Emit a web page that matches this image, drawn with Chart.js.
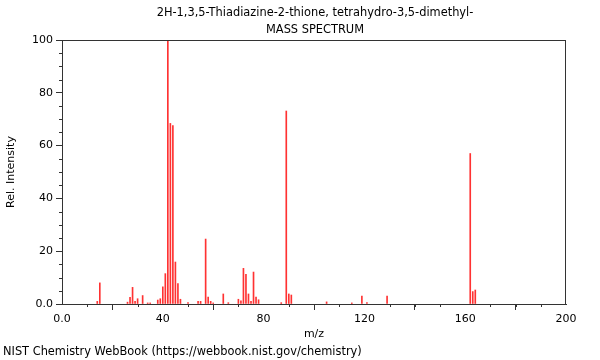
<!DOCTYPE html>
<html lang="en">
<head>
  <meta charset="UTF-8">
  <title>2H-1,3,5-Thiadiazine-2-thione, tetrahydro-3,5-dimethyl- mass spectrum</title>
  <script src="https://cdn.jsdelivr.net/npm/chart.js"></script>
  <style>
    body {
      margin: 0;
      background-color: #fff;
    }
    #wrap {
      width: 600px;
      height: 360px;
    }
  </style>
</head>
<body>
  <div id="wrap">
    <canvas id="spectrum" width="600" height="360"></canvas>
  </div>

  <script>
    // Textos
    const titleLines = ['2H-1,3,5-Thiadiazine-2-thione, tetrahydro-3,5-dimethyl-', 'MASS SPECTRUM'];
    const xAxisLabel = 'm/z';
    const yAxisLabel = 'Rel. Intensity';
    const footerText = 'NIST Chemistry WebBook (https://webbook.nist.gov/chemistry)';

    // Picos (m/z) e intensidad relativa
    const mz = [14, 15, 26, 27, 28, 29, 30, 32, 34, 35, 38, 39, 40, 41, 42, 43, 44, 45, 46, 47, 50,
                54, 55, 57, 58, 59, 60, 64, 66, 70, 71, 72, 73, 74, 75, 76, 77, 78, 87, 89, 90, 91,
                105, 115, 119, 121, 129, 162, 163, 164];
    const intensity = [1, 8, 0.7, 2.5, 6.3, 1, 2, 3.2, 0.4, 0.4, 1.5, 2, 6.5, 11.5, 100, 68.4, 67.6, 15.9, 7.7, 1.8, 0.5,
                       1, 1, 24.6, 2.6, 1, 0.4, 3.8, 0.5, 1.8, 1.2, 13.5, 11.2, 3.8, 1, 12.1, 2.6, 1.6, 0.5, 73.1, 3.8, 3.4,
                       0.8, 0.4, 3, 0.5, 3, 57, 4.7, 5.3];

    // Ejes
    const xRange = [0, 200];
    const yRange = [0, 100];
    const xMajorStep = 40, xMinorStep = 10;
    const yMajorStep = 20, yMinorStep = 5;

    const axisColor = '#333';
    const textFont = "11px 'DejaVu Sans', sans-serif";
    const headFont = "11.4px 'DejaVu Sans', sans-serif";
    const fmt = v => (v === 0 ? '0.0' : String(v));

    Chart.defaults.font.family = "'DejaVu Sans', sans-serif";
    Chart.defaults.font.size = 11;
    Chart.defaults.color = '#000';

    // Marco, ticks menores y textos
    const decorations = {
      id: 'decorations',
      afterDraw(chart) {
        const { ctx, chartArea: a, scales } = chart;
        ctx.save();
        ctx.strokeStyle = axisColor;
        ctx.lineWidth = 1;
        ctx.strokeRect(a.left + 0.5, a.top + 0.5, a.right - a.left - 1, a.bottom - a.top);

        ctx.beginPath();
        for (let v = xRange[0]; v <= xRange[1]; v += xMinorStep) {
          if (v % xMajorStep === 0) continue;
          const px = Math.round(scales.x.getPixelForValue(v)) + 0.5;
          ctx.moveTo(px, a.bottom);
          ctx.lineTo(px, a.bottom + 3);
        }
        for (let v = yRange[0]; v <= yRange[1]; v += yMinorStep) {
          if (v % yMajorStep === 0) continue;
          const py = Math.round(scales.y.getPixelForValue(v)) + 0.5;
          ctx.moveTo(a.left - 3, py);
          ctx.lineTo(a.left, py);
        }
        ctx.stroke();

        ctx.fillStyle = '#000';
        ctx.textAlign = 'center';
        ctx.textBaseline = 'middle';
        const cx = (a.left + a.right) / 2;
        ctx.font = headFont;
        ctx.fillText(titleLines[0], cx + 1, 13);
        ctx.fillText(titleLines[1], cx + 1, 30);

        ctx.font = textFont;
        ctx.fillText(xAxisLabel, cx, 334);

        ctx.font = headFont;
        ctx.textAlign = 'left';
        ctx.fillText(footerText, 3, 352);

        ctx.font = textFont;
        ctx.translate(11, (a.top + a.bottom) / 2);
        ctx.rotate(-Math.PI / 2);
        ctx.textAlign = 'center';
        ctx.fillText(yAxisLabel, 0, 0);
        ctx.restore();
      }
    };

    new Chart(document.getElementById('spectrum'), {
      type: 'bar',
      data: {
        datasets: [{
          data: mz.map((m, i) => ({ x: m, y: intensity[i] })),
          backgroundColor: 'rgb(255, 50, 50)',
          borderWidth: 0,
          barThickness: 1
        }]
      },
      options: {
        responsive: false,
        animation: false,
        devicePixelRatio: 1,
        layout: { padding: { top: 40, right: 34, bottom: 16, left: 0 } },
        plugins: {
          legend: { display: false },
          tooltip: { enabled: false }
        },
        scales: {
          x: {
            type: 'linear',
            min: xRange[0],
            max: xRange[1],
            offset: false,
            afterFit: s => { s.height = 40; },
            border: { display: true, color: axisColor },
            grid: { drawOnChartArea: false, tickLength: 6, color: axisColor },
            ticks: { stepSize: xMajorStep, padding: 3, maxRotation: 0, callback: fmt }
          },
          y: {
            min: yRange[0],
            max: yRange[1],
            afterFit: s => { s.width = 62; },
            border: { display: true, color: axisColor },
            grid: { drawOnChartArea: false, tickLength: 6, color: axisColor },
            ticks: { stepSize: yMajorStep, padding: 3, callback: fmt }
          }
        }
      },
      plugins: [decorations]
    });
  </script>
</body>
</html>
